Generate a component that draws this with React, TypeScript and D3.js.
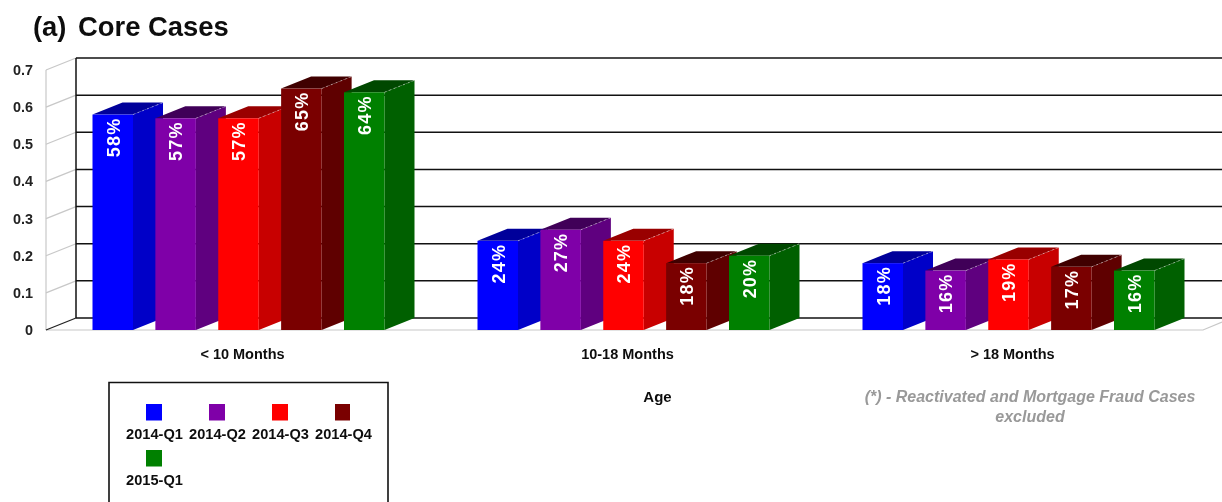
import React from "react";
import * as d3 from "d3";

const categories = ["< 10 Months", "10-18 Months", "> 18 Months"];
const seriesNames = ["2014-Q1", "2014-Q2", "2014-Q3", "2014-Q4", "2015-Q1"];
const q1_2014 = [0.58, 0.24, 0.18];
const q2_2014 = [0.57, 0.27, 0.16];
const q3_2014 = [0.57, 0.24, 0.19];
const q4_2014 = [0.65, 0.18, 0.17];
const q1_2015 = [0.64, 0.2, 0.16];
const seriesValues = [q1_2014, q2_2014, q3_2014, q4_2014, q1_2015];
const frontColors = ["#0000ff", "#7f00a8", "#ff0000", "#7a0000", "#008000"];
const sideColors = ["#0000c8", "#5f007f", "#c80000", "#5f0000", "#006000"];
const topColors = ["#00009a", "#400058", "#990000", "#400000", "#004800"];
const yTicks = [0, 0.1, 0.2, 0.3, 0.4, 0.5, 0.6, 0.7];

const FONT = "'Liberation Sans', Arial, sans-serif";
const DX = 30;
const DY = -12;
const y = d3.scaleLinear().domain([0, 0.7]).range([330, 70]);
const groupX = d3.scaleLinear().domain([0, 2]).range([92.5, 862.5]);
const seriesX = d3.scaleLinear().domain([0, 4]).range([0, 251.5]);
const BAR_W = 40.5;

export default function App() {
  const wallRight = 1240;
  return (
    <svg width={1222} height={502} viewBox="0 0 1222 502"
      style={{ position: "absolute", left: 0, top: 0, background: "#fff", fontFamily: FONT }}>
      <defs>
        <filter id="soft" filterUnits="userSpaceOnUse" x={0} y={0} width={1222} height={502}>
          <feGaussianBlur stdDeviation={0.35} />
        </filter>
      </defs>

      {/* walls and floor */}
      <g>
        <path d={`M46,${y(0)} H1203 L1222,${y(0) - 8}`} fill="none" stroke="#c8c8c8" strokeWidth={1.2} />
        <line x1={46} x2={46} y1={y(0)} y2={y(0.7)} stroke="#c8c8c8" strokeWidth={1.2} />
        {yTicks.map((t) => (
          <g key={t}>
            <line x1={46} x2={46 + DX} y1={y(t)} y2={y(t) + DY} stroke={t === 0 ? "#222" : "#c8c8c8"} strokeWidth={1.2} />
            <line x1={46 + DX} x2={wallRight} y1={y(t) + DY} y2={y(t) + DY} stroke="#111" strokeWidth={1.5} />
          </g>
        ))}
        <line x1={46 + DX} x2={46 + DX} y1={y(0.7) + DY} y2={y(0) + DY} stroke="#111" strokeWidth={1.5} />
      </g>

      {/* bars */}
      <g>
        {categories.map((c, ci) =>
          seriesValues.map((vals, si) => {
            const x0 = groupX(ci) + seriesX(si);
            const x1 = x0 + BAR_W;
            const top = y(vals[ci]);
            const bot = y(0);
            return (
              <g key={`${ci}-${si}`}>
                <path d={`M${x1},${bot} L${x1 + DX},${bot + DY} V${top + DY} L${x1},${top} Z`} fill={sideColors[si]} />
                <path d={`M${x0},${top} L${x0 + DX},${top + DY} H${x1 + DX} L${x1},${top} Z`} fill={topColors[si]} />
                <rect x={x0} y={top} width={BAR_W} height={bot - top} fill={frontColors[si]} />
                <line x1={x1} y1={top} x2={x1 + DX} y2={top + DY} stroke="#fff" strokeOpacity={0.45} strokeWidth={1} strokeDasharray="2 3" />
              </g>
            );
          })
        )}
      </g>

      {/* legend frame and swatches */}
      <path d="M109,502 V382.5 H388 V502" fill="none" stroke="#111" strokeWidth={1.6} />
      {seriesNames.map((s, i) => {
        const cx = 154 + (i % 4) * 63;
        const row = Math.floor(i / 4);
        return <rect key={s} x={cx - 8} y={404 + row * 46} width={i === 3 ? 15 : 16} height={16.5} fill={frontColors[i]} />;
      })}

      {/* all text */}
      <g filter="url(#soft)">
        <text x={33} y={36} fontSize={27.4} fontWeight="bold" fill="#111">(a)</text>
        <text x={78} y={36} fontSize={27.4} fontWeight="bold" fill="#111">Core Cases</text>
        {yTicks.map((t) => (
          <text key={t} x={33} y={y(t) + 5} textAnchor="end" fontSize={14.4} fontWeight="bold" fill="#222">{t === 0 ? "0" : t.toFixed(1)}</text>
        ))}
        {categories.map((c, ci) =>
          seriesValues.map((vals, si) => {
            const x = groupX(ci) + seriesX(si) + 27;
            const yy = y(vals[ci]) + 3;
            return (
              <text key={`${ci}-${si}`} transform={`translate(${x},${yy}) rotate(-90)`} textAnchor="end"
                fontSize={18} letterSpacing={1.2} fontWeight="bold" fill="#fff">{Math.round(vals[ci] * 100)}%</text>
            );
          })
        )}
        {categories.map((c, ci) => (
          <text key={c} x={groupX(ci) + 150} y={359} textAnchor="middle" fontSize={14.5} fontWeight="bold" fill="#111">{c}</text>
        ))}
        <text x={657.5} y={402} textAnchor="middle" fontSize={15} fontWeight="bold" fill="#111">Age</text>
        <text x={1030} y={402} textAnchor="middle" fontSize={16} fontWeight="bold" fontStyle="italic" fill="#999">(*) - Reactivated and Mortgage Fraud Cases</text>
        <text x={1030} y={422} textAnchor="middle" fontSize={16} fontWeight="bold" fontStyle="italic" fill="#999">excluded</text>
        {seriesNames.map((s, i) => (
          <text key={s} x={154.5 + (i % 4) * 63} y={439 + Math.floor(i / 4) * 46} textAnchor="middle" fontSize={14.6} fontWeight="bold" fill="#111">{s}</text>
        ))}
      </g>
    </svg>
  );
}
